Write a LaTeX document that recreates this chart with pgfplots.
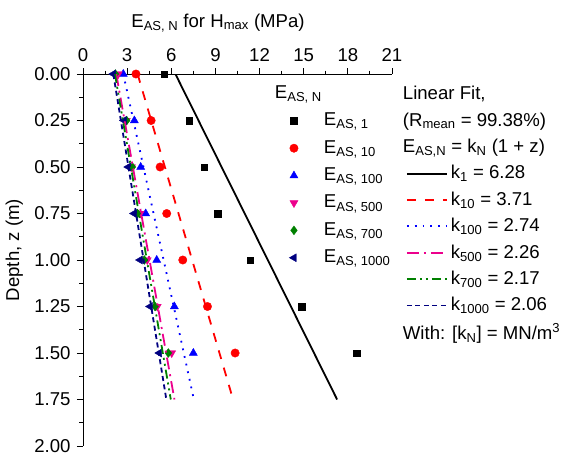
\documentclass[border=0pt]{standalone}
\usepackage{pgfplots}
\pgfplotsset{compat=1.18}
\usepackage{fontspec}
\setmainfont{Liberation Sans}
\definecolor{cgreen}{RGB}{0,128,0}
\definecolor{cnavy}{RGB}{0,0,128}
\pgfplotstableread{
E z
5.53 0
7.23 0.25
8.25 0.5
9.14 0.75
11.36 1
14.85 1.25
18.6 1.5
}\tA
\pgfplotstableread{
E z
3.6 0
4.63 0.25
5.24 0.5
5.69 0.75
6.78 1
8.46 1.25
10.34 1.5
}\tB
\pgfplotstableread{
E z
2.74 0
3.49 0.25
3.92 0.5
4.26 0.75
5.01 1
6.21 1.25
7.5 1.5
}\tC
\pgfplotstableread{
E z
2.4 0
2.95 0.25
3.3 0.5
3.88 0.75
4.37 1
5.05 1.25
6.03 1.5
}\tD
\pgfplotstableread{
E z
2.2 0
2.97 0.25
3.36 0.5
3.7 0.75
4.17 1
4.9 1.25
5.8 1.5
}\tE
\pgfplotstableread{
E z
2.06 0
2.79 0.25
3.08 0.5
3.47 0.75
3.88 1
4.56 1.25
5.19 1.5
}\tF
\begin{document}
\fontsize{18.6}{22}\selectfont
\begin{tikzpicture}
\pgfplotsset{
  base/.style={
    scale only axis, width=309pt, height=372pt,
    xmin=0, xmax=21, ymin=0, ymax=2,
    y dir=reverse,
  },
  scatleg/.style={
    legend image code/.code={
      \path[draw=none,fill=none] (-10pt,-4pt) rectangle (28pt,4pt);
      \draw[##1] plot coordinates {(0pt,0pt)};
    }
  },
  fitline/.style={
    legend image code/.code={
      \path[draw=none,fill=none] (0pt,-2pt) rectangle (42pt,2pt);
      \draw[##1, line width=1.8pt] (0pt,0pt) -- (40pt,0pt);
    }
  },
}
\begin{axis}[
  base,
  axis x line*=top, axis y line*=left,
  xtick={0,3,6,9,12,15,18,21}, minor x tick num=1,
  ytick={0,0.25,0.5,0.75,1,1.25,1.5,1.75,2}, minor y tick num=1,
  tick align=outside,
  major tick length=6pt, minor tick length=3.5pt,
  tick style={black, line width=0.9pt},
  axis line style={line width=0.9pt},
  /pgf/number format/assume math mode=true,
  yticklabel style={/pgf/number format/.cd, fixed, fixed zerofill, precision=2},
  ticklabel style={font=\fontsize{18.6}{22}\selectfont},
  xlabel={E\textsubscript{AS, N} for H\textsubscript{max} (MPa)},
  xlabel style={at={(axis description cs:0.437,1)}, anchor=base, yshift=47pt, font=\fontsize{18.6}{22}\selectfont},
  ylabel={Depth, z (m)},
  ylabel style={at={(axis description cs:-0.207,0.527)}, anchor=base, rotate=0, font=\fontsize{18.6}{22}\selectfont},
  legend cell align=left,
  legend style={at={(axis description cs:0.640,0.98)}, anchor=north west, draw=none, fill=none,
    font=\fontsize{18.6}{22}\selectfont, row sep=7.8pt},
]
\addlegendimage{empty legend}
\addlegendentry{\hspace{-49pt}E\textsubscript{AS, N}}
\addplot[only marks, scatleg, mark=square*, mark size=3.3pt, color=black] table[x=E,y=z] {\tA};
\addlegendentry{E\textsubscript{AS, 1}}
\addplot[only marks, scatleg, mark=*, mark size=4.2pt, color=red] table[x=E,y=z] {\tB};
\addlegendentry{E\textsubscript{AS, 10}}
\addplot[only marks, scatleg, mark=triangle*, mark size=4.6pt, color=blue] table[x=E,y=z] {\tC};
\addlegendentry{E\textsubscript{AS, 100}}
\addplot[only marks, scatleg, mark=triangle*, mark options={rotate=180}, mark size=4.6pt, color=magenta] table[x=E,y=z] {\tD};
\addlegendentry{E\textsubscript{AS, 500}}
\addplot[only marks, scatleg, mark=diamond*, mark size=4.4pt, color=cgreen] table[x=E,y=z] {\tE};
\addlegendentry{E\textsubscript{AS, 700}}
\addplot[only marks, scatleg, mark=triangle*, mark options={rotate=90}, mark size=4.6pt, color=cnavy] table[x=E,y=z] {\tF};
\addlegendentry{E\textsubscript{AS, 1000}}
\end{axis}
\begin{axis}[
  base,
  hide axis,
  legend cell align=left,
  legend style={at={(axis description cs:1.035,0.978)}, anchor=north west, draw=none, fill=none,
    font=\fontsize{18.6}{22}\selectfont, row sep=6.1pt},
]
\addlegendimage{empty legend}
\addlegendentry{\hspace{-48pt}Linear Fit,}
\addlegendimage{empty legend}
\addlegendentry{\hspace{-48pt}(R\textsubscript{mean} = 99.38\%)}
\addlegendimage{empty legend}
\addlegendentry{\hspace{-48pt}E\textsubscript{AS,N} = k\textsubscript{N} (1 + z)}
\addplot[fitline, black, line width=1.8pt] table {
E z
6.28 0
17.27 1.75
};
\addlegendentry{k\textsubscript{1} = 6.28}
\addplot[fitline, red, line width=1.8pt, dash pattern=on 9pt off 9pt] table {
E z
3.71 0
10.2 1.75
};
\addlegendentry{k\textsubscript{10} = 3.71}
\addplot[fitline, blue, line width=1.8pt, dash pattern=on 1.8pt off 6pt] table {
E z
2.74 0
7.535 1.75
};
\addlegendentry{k\textsubscript{100} = 2.74}
\addplot[fitline, magenta, line width=1.8pt, dash pattern=on 12pt off 5pt on 2pt off 5pt] table {
E z
2.26 0
6.215 1.75
};
\addlegendentry{k\textsubscript{500} = 2.26}
\addplot[fitline, cgreen, line width=1.8pt, dash pattern=on 9pt off 4pt on 2pt off 4pt on 2pt off 4pt] table {
E z
2.17 0
5.9675 1.75
};
\addlegendentry{k\textsubscript{700} = 2.17}
\addplot[fitline, cnavy, line width=1.8pt, dash pattern=on 5pt off 3.5pt] table {
E z
2.06 0
5.665 1.75
};
\addlegendentry{k\textsubscript{1000} = 2.06}
\addlegendimage{empty legend}
\addlegendentry{\hspace{-48pt}With: [k\textsubscript{N}] = MN/m\textsuperscript{3}}
\end{axis}
\pgfresetboundingbox
\path[use as bounding box] (-83pt,-13pt) rectangle (483pt,446pt);
\end{tikzpicture}
\end{document}
